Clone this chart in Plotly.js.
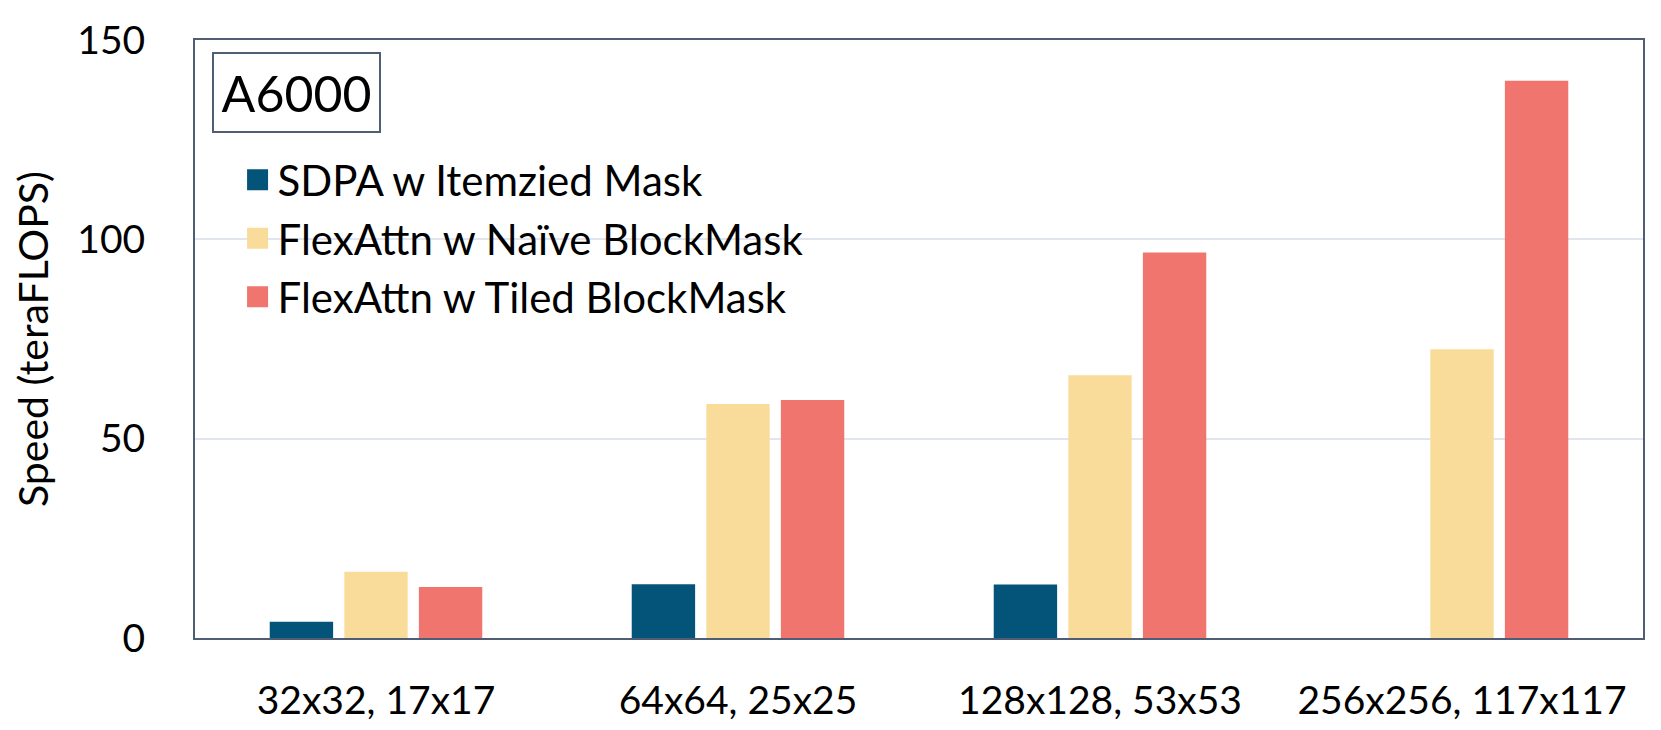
<!DOCTYPE html>
<html>
<head>
<meta charset="utf-8">
<script src="https://cdn.plot.ly/plotly-3.0.1.min.js"></script>
<style>
  html, body { margin: 0; padding: 0; background: #fff; }
  #chart { width: 1661px; height: 730px; }
</style>
</head>
<body>
<div id="chart"></div>
<script>
// block sizes on the x axis
const categories = ["32x32, 17x17", "64x64, 25x25", "128x128, 53x53", "256x256, 117x117"];

// speed in teraFLOPS
const sdpaItemized = [4.1, 13.5, 13.4, null];
const flexNaive = [16.6, 58.7, 65.9, 72.4];
const flexTiled = [12.8, 59.7, 96.7, 139.8];

const seriesNames = ["SDPA w Itemzied Mask", "FlexAttn w Naïve BlockMask", "FlexAttn w Tiled BlockMask"];
const seriesColors = ["#045479", "#fadc9a", "#f0756f"];

const FONT = "Lato, 'Open Sans', sans-serif";
const frame = "#4f5d75";

const values = [sdpaItemized, flexNaive, flexTiled];

const bars = values.map((ys, i) => ({
  type: "bar",
  x: categories,
  y: ys,
  name: seriesNames[i],
  marker: { color: seriesColors[i] },
  showlegend: false,
  hoverinfo: "x+y",
}));

// legend only entries, so the swatches can be bigger than the bar default
const legendEntries = seriesNames.map((name, i) => ({
  type: "scatter",
  mode: "markers",
  x: [null],
  y: [null],
  name,
  legendgroup: "g" + i,
  marker: {
    symbol: "square",
    size: 16,
    color: seriesColors[i],
    line: { color: seriesColors[i], width: 5 },
  },
}));

const layout = {
  width: 1661,
  height: 730,
  margin: { l: 195, r: 18, t: 40, b: 92 },
  paper_bgcolor: "#fff",
  plot_bgcolor: "#fff",
  font: { family: FONT, color: "#000", size: 38 },
  barmode: "group",
  bargap: 0.382,
  bargroupgap: 0.15,
  showlegend: true,
  legend: {
    x: 0.0294,
    y: 0.823,
    xanchor: "left",
    yanchor: "top",
    bgcolor: "rgba(0,0,0,0)",
    font: { family: FONT, size: 42, color: "#000" },
    traceorder: "grouped",
    tracegroupgap: 1,
    itemsizing: "trace",
  },
  xaxis: {
    type: "category",
    showline: true,
    mirror: true,
    linecolor: frame,
    linewidth: 2,
    showgrid: false,
    ticks: "",
    ticklabelstandoff: 27,
    tickfont: { family: FONT, size: 39 },
  },
  yaxis: {
    range: [0, 150],
    tickvals: [0, 50, 100, 150],
    showline: true,
    mirror: true,
    linecolor: frame,
    linewidth: 2,
    gridcolor: "#e0e5ee",
    gridwidth: 2,
    zeroline: false,
    ticks: "",
    ticklabelstandoff: 40,
    tickfont: { family: FONT, size: 39 },
    title: {
      text: "Speed (teraFLOPS)",
      font: { family: FONT, size: 41 },
      standoff: 16,
    },
  },
  annotations: [
    {
      text: "A6000",
      xref: "paper",
      yref: "paper",
      x: 0.0115,
      y: 0.9804,
      xanchor: "left",
      yanchor: "top",
      showarrow: false,
      width: 163,
      height: 75,
      bordercolor: frame,
      borderwidth: 2,
      bgcolor: "#fff",
      font: { family: FONT, size: 50, color: "#000" },
    },
  ],
};

Plotly.newPlot("chart", [...bars, ...legendEntries], layout, { displayModeBar: false, responsive: false });
</script>
</body>
</html>
